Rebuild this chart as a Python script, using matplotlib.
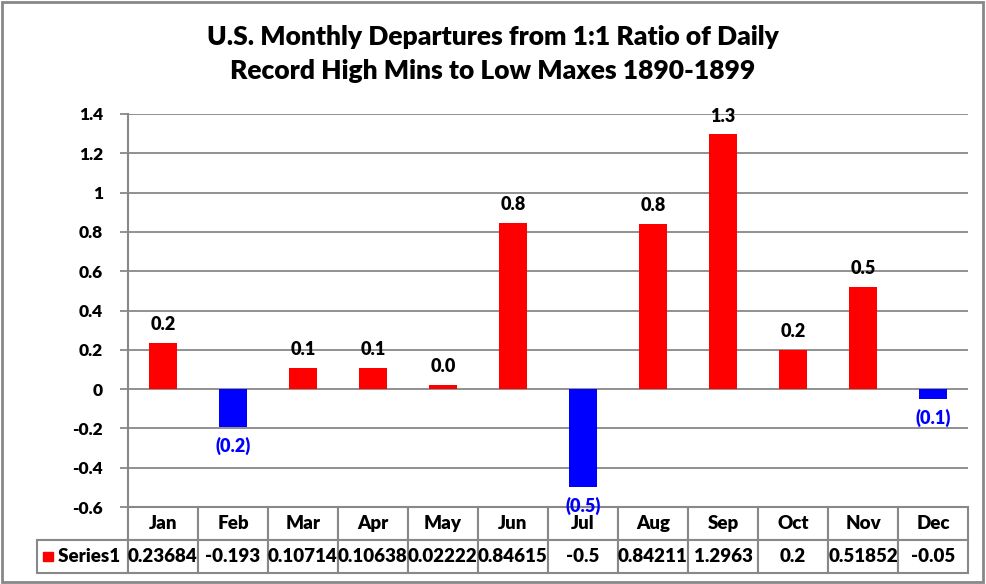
import matplotlib
matplotlib.use("Agg")
from matplotlib import pyplot as plt
from matplotlib.patches import Rectangle
import numpy as np

plt.rcParams['font.family'] = ['Lato', 'DejaVu Sans']
plt.rcParams['font.weight'] = 'heavy'

months = ["Jan", "Feb", "Mar", "Apr", "May", "Jun", "Jul", "Aug", "Sep", "Oct", "Nov", "Dec"]
values = [0.23684, -0.193, 0.10714, 0.10638, 0.02222, 0.84615, -0.5, 0.84211, 1.2963, 0.2, 0.51852, -0.05]
table_text = ["0.23684", "-0.193", "0.10714", "0.10638", "0.02222", "0.84615", "-0.5", "0.84211", "1.2963", "0.2", "0.51852", "-0.05"]
series_name = "Series1"
title = "U.S. Monthly Departures from 1:1 Ratio of Daily\nRecord High Mins to Low Maxes 1890-1899"

grey = "#888888"
wt = "heavy"

fig = plt.figure(figsize=(9.86, 5.84), dpi=100)
fig.patches.append(Rectangle((0.002, 0.004), 0.995, 0.992, transform=fig.transFigure,
                             fill=False, edgecolor=grey, linewidth=2))
ax = fig.add_axes([128 / 986, 1 - 507 / 584, 840 / 986, 393 / 584])

x = np.arange(len(months))
colors = ["red" if v >= 0 else "blue" for v in values]
ax.bar(x, values, width=0.4, color=colors, zorder=3)

for xi, v in zip(x, values):
    if v >= 0:
        ax.annotate(f"{v:.1f}", (xi, v), xytext=(0, 7), textcoords="offset points",
                    ha="center", va="bottom", fontsize=13, fontweight=wt, color="black")
    else:
        ax.annotate(f"({abs(v):.1f})", (xi, v), xytext=(0, -7), textcoords="offset points",
                    ha="center", va="top", fontsize=13, fontweight=wt, color="blue", zorder=5)

ax.set_xlim(-0.5, 11.5)
ax.set_ylim(-0.6, 1.4)
ax.set_yticks(np.arange(-0.6, 1.41, 0.2))
ax.set_yticklabels(["-0.6", "-0.4", "-0.2", "0", "0.2", "0.4", "0.6", "0.8", "1", "1.2", "1.4"])
ax.yaxis.grid(True, color=grey, linewidth=1.3, zorder=0)
ax.set_xticks([])
for s in ["top", "right", "bottom"]:
    ax.spines[s].set_visible(False)
ax.spines["left"].set_color(grey)
ax.spines["left"].set_linewidth(1.5)
ax.tick_params(axis="y", direction="out", length=6, width=1.3, color=grey, labelsize=12.5, pad=12)
for lab in ax.get_yticklabels():
    lab.set_fontweight(wt)

# data table under the plot: first column holds the legend key
lab_w = 91 / 840
row_h = 33 / 393
cells = [[""] + months, [series_name] + table_text]
tbl = ax.table(cellText=cells, cellLoc="center",
               bbox=[-lab_w, -2 * row_h, 1 + lab_w, 2 * row_h])
tbl.auto_set_font_size(False)
for (r, c), cell in tbl.get_celld().items():
    cell.set_edgecolor(grey)
    cell.set_linewidth(1.5)
    cell.get_text().set_fontsize(13.5)
    cell.get_text().set_fontweight(wt)
    cell.set_width(lab_w if c == 0 else 1 / 12)
tbl[(0, 0)].visible_edges = "BR"
tbl[(1, 0)].get_text().set_text("   " + series_name)

ax.add_patch(Rectangle((-0.101, -1.5 * row_h - 0.0125), 0.0115, 0.025,
                       transform=ax.transAxes, color="red", clip_on=False, zorder=6))

fig.text(0.5, 0.907, title, ha="center", va="center", fontsize=19, fontweight=wt,
         linespacing=1.5)

fig.savefig("out.png", dpi=100)
